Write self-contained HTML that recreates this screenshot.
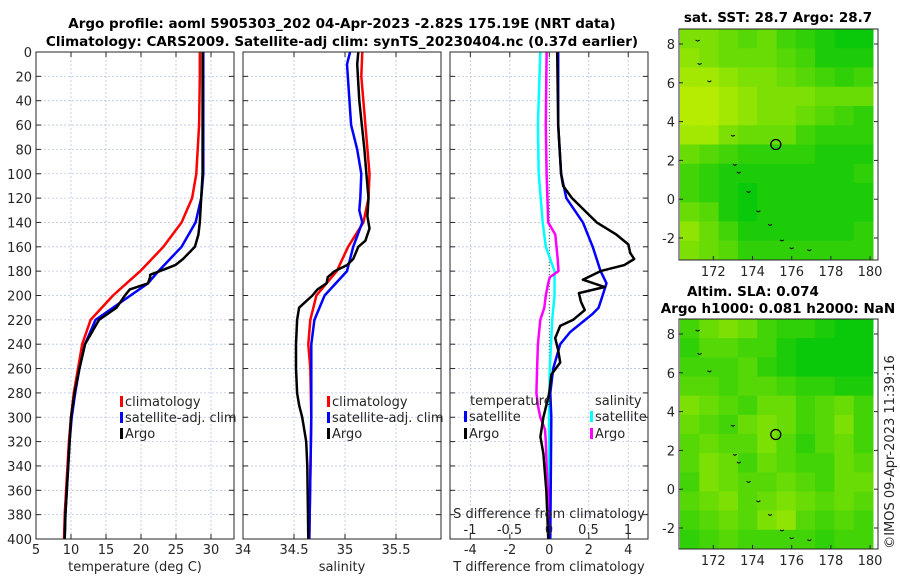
<!DOCTYPE html>
<html><head><meta charset="utf-8"><style>
body{margin:0;background:#fff}
svg{font-family:"DejaVu Sans","Liberation Sans",sans-serif}
</style></head><body>
<svg id="c" width="900" height="580" viewBox="0 0 900 580"></svg>
<script>
const depthsTC=[0,20,60,100,120,140,160,180,200,220,240,260,280,300,320,340,360,380,400];
const tempClim=[28.4,28.4,28.3,27.9,27.3,25.8,23.2,19.9,16,12.8,11.6,11,10.4,10,9.7,9.5,9.3,9.1,9];
const depthsTS=[0,100,120,140,160,180,190,200,220,240,260,280,300,320,340,360,380,400];
const tempSat=[28.9,28.9,28.6,27.8,25.8,22.5,21,18.5,13.5,12,11.2,10.6,10.1,9.8,9.6,9.4,9.2,9.1];
const depthsTA=[0,100,140,150,160,170,175,180,183,185,190,195,200,210,220,240,260,280,300,320,340,360,380,400];
const tempArgo=[28.8,28.8,28.4,28.2,27.7,26,24.9,22.7,21.3,21.3,21,18.4,17.7,16.5,14,12,11.2,10.5,10,9.8,9.6,9.4,9.2,9.1];
const depthsSC=[0,20,60,100,120,140,160,180,200,220,240,260,300,400];
const salClim=[35.17,35.16,35.2,35.24,35.23,35.18,35.03,34.92,34.72,34.66,34.64,34.66,34.67,34.65];
const depthsSS=[0,10,60,80,100,120,130,140,160,180,200,220,240,300,400];
const salSat=[35.05,35.02,35.06,35.12,35.16,35.15,35.14,35.17,35.08,35.02,34.8,34.7,34.67,34.67,34.65];
const depthsSA=[0,10,40,80,100,120,135,145,155,160,170,175,180,185,190,195,200,210,220,240,260,280,290,300,310,320,340,400];
const salArgo=[35.13,35.12,35.14,35.19,35.21,35.23,35.22,35.24,35.2,35.13,35.08,35.02,34.9,34.83,34.82,34.73,34.68,34.55,34.53,34.52,34.52,34.53,34.55,34.58,34.6,34.62,34.63,34.64];
const depthsDTS=[0,60,100,120,140,160,180,190,200,210,215,230,240,260,280,300,400];
const dTSat=[0.45,0.45,0.6,0.86,1.7,2.2,2.6,2.9,2.7,2.5,2.2,1.06,0.55,0.2,0.05,0.1,0.05];
const depthsDTA=[0,60,100,110,120,140,150,158,165,170,175,180,187,193,198,205,212,220,225,235,245,255,265,280,300,316,330,360,400];
const dTArgo=[0.4,0.45,0.6,0.7,1.15,2.4,3.4,4.0,4.1,4.3,3.8,2.6,1.7,2.8,1.5,1.6,1.8,1.2,0.55,0.3,0.45,0.55,0.1,0,-0.3,-0.45,-0.3,-0.15,-0.05];
const depthsDSS=[0,60,100,140,160,180,200,220,260,300,400];
const dSSat=[-0.11,-0.14,-0.13,-0.08,-0.04,0.07,0.07,0.04,0.01,0,0];
const depthsDSA=[0,60,100,140,150,170,180,185,190,200,210,220,240,260,280,290,300,310,320,340,360,400];
const dSArgo=[-0.03,-0.04,-0.03,-0.01,0.08,0.11,0.12,0.01,-0.01,-0.04,-0.06,-0.11,-0.14,-0.15,-0.16,-0.14,-0.11,-0.05,-0.04,-0.03,-0.01,-0.01];
const depthTicks=[0,20,40,60,80,100,120,140,160,180,200,220,240,260,280,300,320,340,360,380,400];
const tempTicks=[5,10,15,20,25,30];
const salTicks=[34,34.5,35,35.5];
const salTickLabels=["34","34.5","35","35.5"];
const dTTicks=[-4,-2,0,2,4];
const dSTicks=[-1,-0.5,0,0.5,1];
const dSTickLabels=["-1","-0.5","0","0.5","1"];
const lonTicks=[172,174,176,178,180];
const latTicks=[-2,0,2,4,6,8];
const sstGrid=[
[0.6,0.6,0.5,0.4,0.5,0.3,0.2,0.1,0.0,0.0],
[0.7,0.6,0.5,0.5,0.5,0.4,0.3,0.1,0.1,0.1],
[0.8,0.8,0.7,0.6,0.6,0.5,0.4,0.3,0.2,0.3],
[0.9,0.9,0.8,0.7,0.6,0.6,0.6,0.5,0.5,0.5],
[0.9,0.9,0.8,0.7,0.6,0.6,0.5,0.4,0.3,0.2],
[0.8,0.8,0.6,0.5,0.5,0.5,0.3,0.2,0.2,0.2],
[0.5,0.4,0.3,0.2,0.2,0.2,0.2,0.1,0.1,0.1],
[0.3,0.2,0.1,0.1,0.1,0.1,0.1,0.1,0.1,0.2],
[0.3,0.2,0.1,0.0,0.1,0.1,0.1,0.1,0.1,0.1],
[0.5,0.4,0.1,0.0,0.1,0.1,0.1,0.1,0.1,0.1],
[0.7,0.5,0.3,0.1,0.1,0.1,0.1,0.1,0.1,0.2],
[0.6,0.5,0.4,0.2,0.2,0.2,0.2,0.2,0.2,0.2]];
const slaGrid=[
[0.3,0.5,0.6,0.5,0.3,0.2,0.2,0.1,0.0,0.0],
[0.2,0.4,0.4,0.3,0.3,0.1,0.0,0.0,0.0,0.0],
[0.3,0.3,0.3,0.4,0.2,0.1,0.0,0.0,0.0,0.0],
[0.4,0.4,0.3,0.4,0.4,0.3,0.2,0.2,0.1,0.1],
[0.6,0.5,0.4,0.3,0.5,0.5,0.3,0.4,0.5,0.3],
[0.5,0.4,0.3,0.5,0.6,0.5,0.3,0.4,0.6,0.3],
[0.4,0.5,0.4,0.4,0.6,0.4,0.2,0.4,0.5,0.3],
[0.4,0.6,0.5,0.3,0.5,0.4,0.3,0.3,0.5,0.4],
[0.3,0.6,0.5,0.4,0.4,0.5,0.4,0.3,0.5,0.5],
[0.4,0.5,0.6,0.4,0.5,0.6,0.5,0.4,0.5,0.4],
[0.3,0.4,0.5,0.4,0.6,0.7,0.4,0.3,0.4,0.3],
[0.2,0.3,0.4,0.3,0.3,0.3,0.3,0.2,0.3,0.3]];
const islandLon=[171.2,171.3,171.8,173.0,173.1,173.3,173.8,174.3,174.9,175.5,176.0,176.9];
const islandLat=[8.2,7.0,6.1,3.3,1.8,1.4,0.4,-0.6,-1.3,-2.1,-2.5,-2.6];
const argoLon=175.19, argoLat=2.82;

const NS="http://www.w3.org/2000/svg";
const svg=document.getElementById('c');
function el(tag,attrs,parent){const e=document.createElementNS(NS,tag);for(const k in attrs)e.setAttribute(k,attrs[k]);(parent||svg).appendChild(e);return e;}
function txt(s,x,y,attrs){const t=el('text',Object.assign({x:x,y:y,'font-size':13,fill:'#262626'},attrs||{}));t.textContent=s;return t;}

const Y0=52,Y1=539;
function yD(d){return Y0+d*(Y1-Y0)/400;}
function makePanel(x0,x1,vmin,vmax,name){
  const g=el('g',{});
  
  
  return {g:g,x0:x0,x1:x1,sx:v=>x0+(v-vmin)*(x1-x0)/(vmax-vmin)};
}
function gridAndFrame(p,xt,showY){
  depthTicks.forEach(d=>{const l=el('line',{x1:p.x0,x2:p.x1,y1:yD(d),y2:yD(d),stroke:'#b8c4e6','stroke-width':0.8,'stroke-dasharray':'2,2'},p.g);
    
    el('line',{x1:p.x0,x2:p.x0+5,y1:yD(d),y2:yD(d),stroke:'#262626'},p.g);
    el('line',{x1:p.x1,x2:p.x1-5,y1:yD(d),y2:yD(d),stroke:'#262626'},p.g);
    if(showY){const t=txt(String(d),p.x0-4,yD(d)+5,{'text-anchor':'end'});}
  });
  xt.forEach(v=>{const x=p.sx(v);
    const l=el('line',{x1:x,x2:x,y1:Y0,y2:Y1,stroke:'#b8c4e6','stroke-width':0.8,'stroke-dasharray':'2,2'},p.g);
    
    el('line',{x1:x,x2:x,y1:Y1,y2:Y1-5,stroke:'#262626'},p.g);
    el('line',{x1:x,x2:x,y1:Y0,y2:Y0+5,stroke:'#262626'},p.g);
  });
}
function frame(p){const r=el('rect',{x:p.x0,y:Y0,width:p.x1-p.x0,height:Y1-Y0,fill:'none',stroke:'#262626','stroke-width':1},p.g);}
function line(p,ds,vs,color,name,w){
  const pts=ds.map((d,i)=>p.sx(vs[i]).toFixed(1)+','+yD(d).toFixed(1)).join(' ');
  const l=el('polyline',{points:pts,fill:'none',stroke:color,'stroke-width':w||2.5,'stroke-linejoin':'round'},p.g);
  
}
function legendItem(x,y,color,label,name){
  el('rect',{x:x,y:y-10,width:3,height:11,fill:color});
  const t=txt(label,x+5,y);
  
}

// Panel 1 temperature
const p1=makePanel(36,234,5,5+198/7,'temperature-panel');
gridAndFrame(p1,tempTicks,true);
line(p1,depthsTC,tempClim,'#ff0000','temp-climatology-line');
line(p1,depthsTS,tempSat,'#0000ff','temp-satellite-line');
line(p1,depthsTA,tempArgo,'#000000','temp-argo-line');
frame(p1);
tempTicks.forEach(v=>{const t=txt(String(v),p1.sx(v),554,{'text-anchor':'middle'});});
legendItem(120,406,'#ff0000','climatology','legend-climatology');
legendItem(120,422,'#0000ff','satellite-adj. clim','legend-satellite-adj');
legendItem(120,438,'#000000','Argo','legend-argo');
{const t=txt('temperature (deg C)',135,571,{'text-anchor':'middle'});}

// Panel 2 salinity
const p2=makePanel(243,441,34,34+198/102,'salinity-panel');
gridAndFrame(p2,salTicks,false);
line(p2,depthsSC,salClim,'#ff0000','sal-climatology-line');
line(p2,depthsSS,salSat,'#0000ff','sal-satellite-line');
line(p2,depthsSA,salArgo,'#000000','sal-argo-line');
frame(p2);
salTicks.forEach((v,i)=>{const t=txt(salTickLabels[i],p2.sx(v),554,{'text-anchor':'middle'});});
legendItem(327,406,'#ff0000','climatology','legend-climatology-2');
legendItem(327,422,'#0000ff','satellite-adj. clim','legend-satellite-adj-2');
legendItem(327,438,'#000000','Argo','legend-argo-2');
{const t=txt('salinity',342,571,{'text-anchor':'middle'});}

// Panel 3 differences
const p3=makePanel(450,648,-5.03,5,'difference-panel');
const sxS=v=>549+v*79;
gridAndFrame(p3,dTTicks,false);
{const l=el('line',{x1:p3.sx(0),x2:p3.sx(0),y1:Y0,y2:Y1,stroke:'#555','stroke-width':1,'stroke-dasharray':'1,2'},p3.g);}
const p3s={g:p3.g,sx:sxS};
line(p3s,depthsDSS,dSSat,'#00ffff','sal-diff-satellite-line');
line(p3s,depthsDSA,dSArgo,'#ff00ff','sal-diff-argo-line');
line(p3,depthsDTS,dTSat,'#0000ff','temp-diff-satellite-line');
line(p3,depthsDTA,dTArgo,'#000000','temp-diff-argo-line');
frame(p3);
dTTicks.forEach(v=>{const t=txt(String(v),p3.sx(v),554,{'text-anchor':'middle'});});
dSTicks.forEach((v,i)=>{const t=txt(dSTickLabels[i],sxS(v),534,{'text-anchor':'middle'});});
{const t=txt('S difference from climatology',549,518,{'text-anchor':'middle'});}
{const t=txt('T difference from climatology',549,571,{'text-anchor':'middle'});}
{const t=txt('temperature',470,405);}
{const t=txt('salinity',595,405);}
legendItem(464,421,'#0000ff','satellite','legend-temp-satellite');
legendItem(464,438,'#000000','Argo','legend-temp-argo');
legendItem(590,421,'#00ffff','satellite','legend-sal-satellite');
legendItem(590,438,'#ff00ff','Argo','legend-sal-argo');

// Titles
{const t=txt('Argo profile: aoml 5905303_202 04-Apr-2023 -2.82S 175.19E (NRT data)',342,28,{'text-anchor':'middle','font-weight':'bold',fill:'#000','font-size':13.5});}
{const t=txt('Climatology: CARS2009. Satellite-adj clim: synTS_20230404.nc (0.37d earlier)',342,46,{'text-anchor':'middle','font-weight':'bold',fill:'#000','font-size':13.5});}

// Maps
function colorOf(v){const a=[10,200,10],b=[200,240,0];return 'rgb('+a.map((c,i)=>Math.round(c+(b[i]-c)*v)).join(',')+')';}
function makeMap(top,bottom,grid,name){
  const x0=680,x1=873,lonMin=170.3,lonMax=180.15,latMax=8+(44-29)/19.4;
  const g=el('g',{});
  const latMin=latMax-(bottom-top)/19.4;
  const sx=lon=>x0+(lon-lonMin)*(x1-x0)/(lonMax-lonMin);
  const sy=lat=>top+(latMax-lat)*(bottom-top)/(latMax-latMin);
  const rows=grid.length,cols=grid[0].length;
  const cw=(x1-x0)/cols,ch=(bottom-top)/rows;
  grid.forEach((row,r)=>row.forEach((v,c)=>{const cell=el('rect',{x:x0+c*cw,y:top+r*ch,width:cw+0.5,height:ch+0.5,fill:colorOf(v)},g);
    }));
  islandLon.forEach((lo,i)=>{const m=el('path',{d:'M'+(sx(lo)-2)+','+sy(islandLat[i])+' l2,1 l2,-1',stroke:'#000','stroke-width':1,fill:'none'},g);
    });
  const c=el('circle',{cx:sx(argoLon),cy:sy(argoLat),r:5,fill:'none',stroke:'#000','stroke-width':1.3},g);
  
  const f=el('rect',{x:x0-1,y:top,width:878-x0+1,height:bottom-top,fill:'none',stroke:'#262626'},g);
  
  lonTicks.forEach(lo=>{el('line',{x1:sx(lo),x2:sx(lo),y1:bottom,y2:bottom-4,stroke:'#262626'},g);
    const t=txt(String(lo),sx(lo),bottom+16,{'text-anchor':'middle'});});
  latTicks.forEach(la=>{el('line',{x1:878,x2:874,y1:sy(la),y2:sy(la),stroke:'#262626'},g);
    el('line',{x1:679,x2:683,y1:sy(la),y2:sy(la),stroke:'#262626'},g);
    const t=txt(String(la),675,sy(la)+5,{'text-anchor':'end'});});
}
makeMap(29,260,sstGrid,'sst-map');
makeMap(319,549,slaGrid,'sla-map');
{const t=txt('sat. SST: 28.7 Argo: 28.7',778,22,{'text-anchor':'middle','font-weight':'bold',fill:'#000','font-size':13.5});}
{const t=txt('Altim. SLA: 0.074',753,296,{'text-anchor':'middle','font-weight':'bold',fill:'#000','font-size':13.5});}
{const t=txt('Argo h1000: 0.081 h2000: NaN',778,313,{'text-anchor':'middle','font-weight':'bold',fill:'#000','font-size':13.5});}
{const t=txt('©IMOS 09-Apr-2023 11:39:16',894,452,{'text-anchor':'middle',transform:'rotate(-90 894 452)'});}
</script>
</body></html>
